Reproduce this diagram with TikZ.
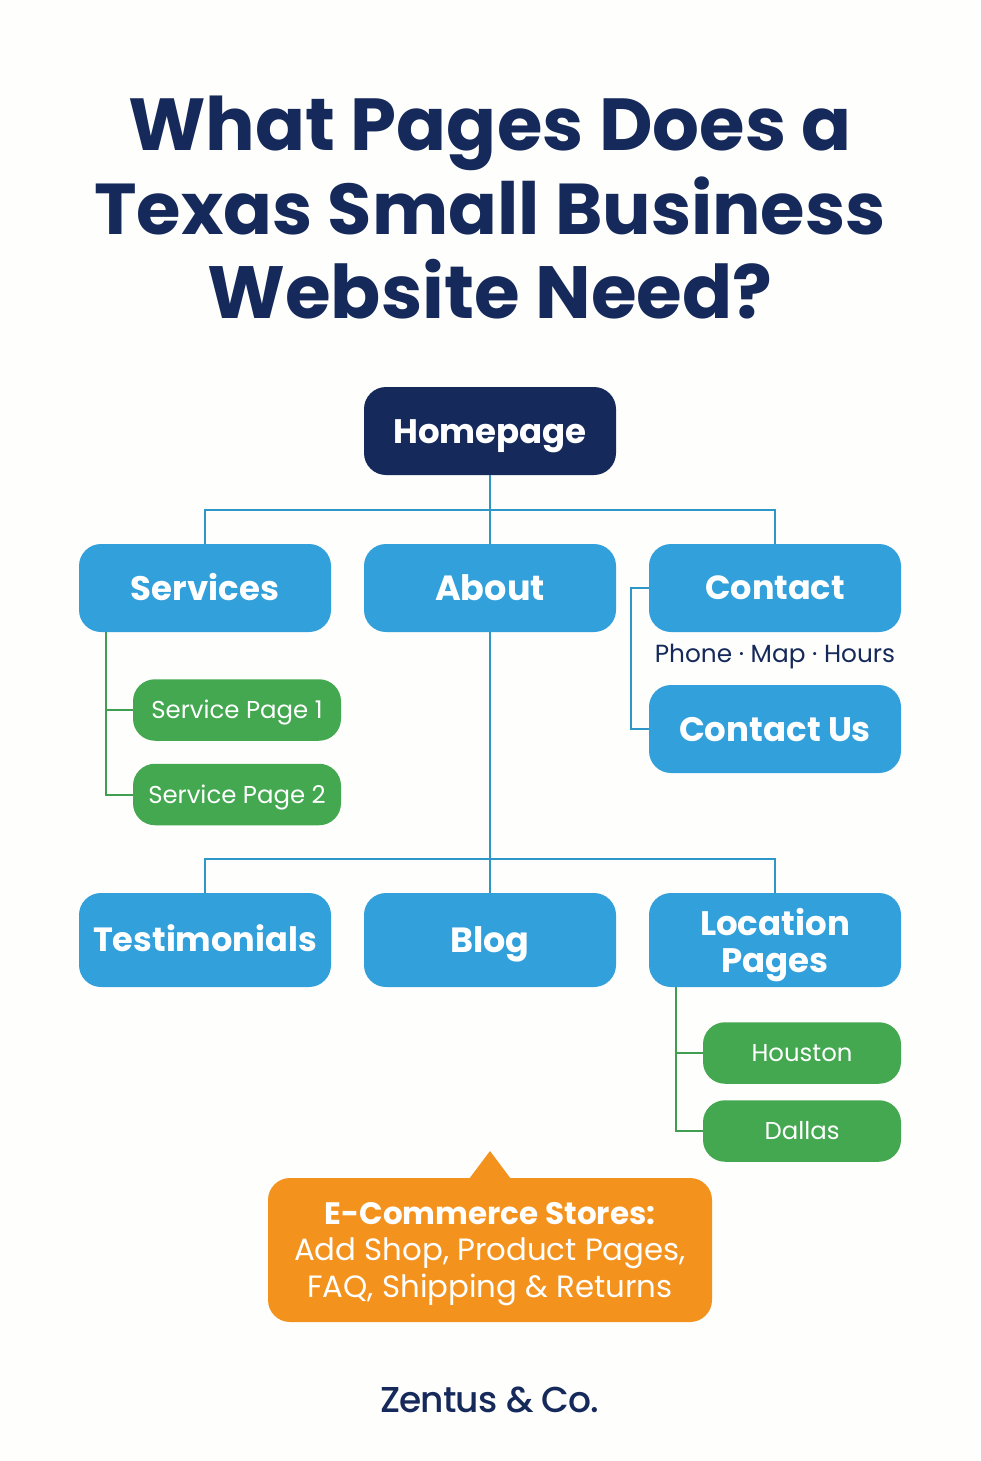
\documentclass[tikz,border=0pt]{standalone}
\usepackage{fontspec}
\setmainfont{Poppins}
\newfontfamily\brandfont[LetterSpace=-2.5]{Poppins Medium}
\definecolor{navy}{HTML}{16295B}
\definecolor{sky}{HTML}{31A0DB}
\definecolor{leaf}{HTML}{43A850}
\definecolor{amber}{HTML}{F4921E}
\definecolor{skyline}{HTML}{2F96C8}
\definecolor{leafline}{HTML}{3F9E50}
\definecolor{paper}{HTML}{FEFEFC}
\newcommand{\fs}[1]{\fontsize{#1}{#1}\selectfont}
\tikzset{
  box/.style={rounded corners=22pt,inner sep=0pt,align=center,text=white,font=\fs{34}\bfseries,minimum width=252pt,minimum height=88pt},
  oneline/.style={text height=#1,text depth=0pt},
  bluebox/.style={box,fill=sky},
  navybox/.style={box,fill=navy},
  leafbox/.style={rounded corners=22pt,inner sep=0pt,align=center,text=white,font=\fs{24.4},fill=leaf,minimum height=61.5pt,oneline=17pt},
  bluelink/.style={draw=skyline,line width=2pt},
  greenlink/.style={draw=leafline,line width=2pt},
  titletext/.style={text=navy,inner sep=0pt,anchor=base}
}
\begin{document}
\begin{tikzpicture}[x=1pt,y=-1pt]
\path[use as bounding box,fill=paper] (0,0) rectangle (980,1461);
\node[titletext,font=\fs{73.7}\bfseries] (t1) at (490,150) {What Pages Does a};
\node[titletext,font=\fs{72}\bfseries] (t2) at (490,234) {Texas Small Business};
\node[titletext,font=\fs{74}\bfseries] (t3) at (490,318) {Website Need?};
\coordinate (bus1) at (490,510);
\coordinate (bus2) at (490,859);
\coordinate (svtrunk) at (106,632);
\coordinate (loctrunk) at (676,987);
\coordinate (contactrail) at (631,588);
\node[navybox,oneline=24pt] (home) at (490,431) {Homepage};
\node[bluebox,oneline=24pt] (services) at (205,588) {Services};
\node[bluebox,oneline=24.5pt,font=\fs{35}\bfseries] (about) at (490,588) {About};
\node[bluebox,oneline=23.5pt,font=\fs{33.5}\bfseries] (contact) at (775,588) {Contact};
\node[bluebox,oneline=24pt] (contactus) at (775,729) {Contact Us};
\node[text=navy,font=\fs{24.8},inner sep=0pt,oneline=17.4pt] (pmh) at (775,654) {Phone · Map · Hours};
\node[leafbox,minimum width=208pt] (sp1) at (237,710) {Service Page 1};
\node[leafbox,minimum width=208pt] (sp2) at (237,794.5) {Service Page 2};
\node[bluebox,oneline=23.5pt,minimum height=94pt,font=\fs{33.6}\bfseries] (test) at (205,940) {Testimonials};
\node[bluebox,oneline=24.5pt,minimum height=94pt,font=\fs{35}\bfseries] (blog) at (490,940) {Blog};
\node[bluebox,minimum height=94pt,text depth=0pt] (loc) at (775,940) {Location\\[3pt]Pages};
\node[leafbox,minimum width=198pt] (hou) at (802,1053) {Houston};
\node[leafbox,minimum width=198pt] (dal) at (802,1131) {Dallas};
\draw[bluelink] (home.south) -- (about.north);
\draw[bluelink] (services.north) |- (bus1) -| (contact.north);
\draw[bluelink] (about.south) -- (blog.north);
\draw[bluelink] (test.north) |- (bus2) -| (loc.north);
\draw[bluelink] (contact.west) -- (contactrail) |- (contactus.west);
\draw[greenlink] (svtrunk) |- (sp1.west);
\draw[greenlink] (svtrunk) |- (sp2.west);
\draw[greenlink] (loctrunk) |- (hou.west);
\draw[greenlink] (loctrunk) |- (dal.west);
\coordinate (tip) at (490,1151);
\fill[amber] (469,1179) -- (tip) -- (511,1179) -- cycle;
\node[rounded corners=22pt,fill=amber,inner sep=0pt,minimum width=444pt,minimum height=144pt,align=center,text=white,font=\fs{30.8},text depth=-1pt] (shop) at (490,1250)
  {{\fs{31}\bfseries E-Commerce Stores:}\\[5pt]Add Shop, Product Pages,\\[5pt]FAQ, Shipping \& Returns};
\node[text=navy,font=\fs{36}\brandfont,inner sep=0pt,oneline=25.5pt] (brand) at (490,1400) {Zentus \& Co.};
\end{tikzpicture}
\end{document}
